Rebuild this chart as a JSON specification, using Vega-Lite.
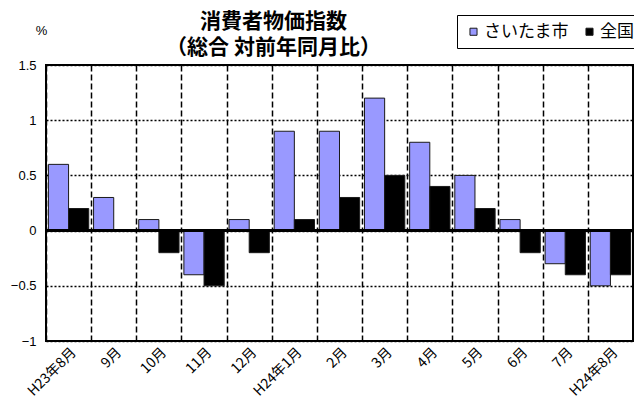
{
  "$schema": "https://vega.github.io/schema/vega-lite/v6.json",
  "width": 587,
  "height": 276,
  "autosize": {"type": "none"},
  "padding": {"left": 46, "top": 65, "right": 1, "bottom": 62},
  "background": "white",
  "title": {
    "text": ["消費者物価指数", "（総合 対前年同月比）"],
    "font": "Noto Sans CJK JP",
    "fontSize": 21,
    "fontWeight": "bold",
    "color": "black",
    "lineHeight": 26,
    "anchor": "middle",
    "dx": -66,
    "offset": -43
  },
  "config": {
    "view": {"stroke": "black", "strokeWidth": 2}
  },
  "data": {
    "values": [
      {"month": "H23年8月", "series": "さいたま市", "value": 0.6},
      {"month": "H23年8月", "series": "全国", "value": 0.2},
      {"month": "9月", "series": "さいたま市", "value": 0.3},
      {"month": "9月", "series": "全国", "value": 0.0},
      {"month": "10月", "series": "さいたま市", "value": 0.1},
      {"month": "10月", "series": "全国", "value": -0.2},
      {"month": "11月", "series": "さいたま市", "value": -0.4},
      {"month": "11月", "series": "全国", "value": -0.5},
      {"month": "12月", "series": "さいたま市", "value": 0.1},
      {"month": "12月", "series": "全国", "value": -0.2},
      {"month": "H24年1月", "series": "さいたま市", "value": 0.9},
      {"month": "H24年1月", "series": "全国", "value": 0.1},
      {"month": "2月", "series": "さいたま市", "value": 0.9},
      {"month": "2月", "series": "全国", "value": 0.3},
      {"month": "3月", "series": "さいたま市", "value": 1.2},
      {"month": "3月", "series": "全国", "value": 0.5},
      {"month": "4月", "series": "さいたま市", "value": 0.8},
      {"month": "4月", "series": "全国", "value": 0.4},
      {"month": "5月", "series": "さいたま市", "value": 0.5},
      {"month": "5月", "series": "全国", "value": 0.2},
      {"month": "6月", "series": "さいたま市", "value": 0.1},
      {"month": "6月", "series": "全国", "value": -0.2},
      {"month": "7月", "series": "さいたま市", "value": -0.3},
      {"month": "7月", "series": "全国", "value": -0.4},
      {"month": "H24年8月", "series": "さいたま市", "value": -0.5},
      {"month": "H24年8月", "series": "全国", "value": -0.4}
    ]
  },
  "layer": [
    {
      "mark": {"type": "bar", "stroke": "#1a1a1a", "strokeWidth": 1},
      "encoding": {
        "x": {
          "field": "month",
          "type": "nominal",
          "sort": null,
          "scale": {"paddingInner": 0, "paddingOuter": 0},
          "axis": {
            "title": null,
            "labelAngle": -45,
            "labelAlign": "right",
            "labelBaseline": "middle",
            "labelFont": "Noto Sans CJK JP",
            "labelFontSize": 14,
            "labelColor": "black",
            "labelOffset": 5,
            "ticks": false,
            "domain": false,
            "tickBand": "extent",
            "grid": true,
            "gridColor": "black",
            "gridDash": [6, 3],
            "gridWidth": 1.5,
            "gridOpacity": 1,
            "labelPadding": 9
          }
        },
        "xOffset": {
          "field": "series",
          "type": "nominal",
          "sort": ["さいたま市", "全国"],
          "scale": {"paddingOuter": 0.12, "paddingInner": 0}
        },
        "y": {
          "field": "value",
          "type": "quantitative",
          "scale": {"domain": [-1, 1.5], "nice": false, "zero": false},
          "axis": {
            "values": [-1, -0.5, 0, 0.5, 1, 1.5],
            "format": "~g",
            "title": "%",
            "titleAngle": 0,
            "titleX": -5,
            "titleY": -35,
            "titleAlign": "center",
            "titleBaseline": "middle",
            "titleFont": "Liberation Sans",
            "titleFontSize": 13,
            "titleFontWeight": "normal",
            "titleColor": "black",
            "labelFont": "Liberation Sans",
            "labelFontSize": 13,
            "labelColor": "black",
            "ticks": false,
            "domain": false,
            "labelPadding": 10,
            "grid": true,
            "gridColor": "black",
            "gridDash": [2, 2],
            "gridWidth": 1.3,
            "gridOpacity": 1
          }
        },
        "color": {
          "field": "series",
          "type": "nominal",
          "scale": {"domain": ["さいたま市", "全国"], "range": ["#9999FF", "#000000"]},
          "legend": {
            "title": null,
            "orient": "none",
            "legendX": 411,
            "legendY": -50,
            "direction": "horizontal",
            "strokeColor": "black",
            "fillColor": "white",
            "padding": 8,
            "symbolType": "square",
            "symbolSize": 50,
            "symbolStrokeWidth": 1,
            "symbolOpacity": 1,
            "labelFont": "Noto Sans CJK JP",
            "labelFontSize": 17,
            "labelColor": "black",
            "labelOffset": 2,
            "columnPadding": 12
          }
        }
      }
    },
    {
      "mark": {"type": "rule", "color": "black", "strokeWidth": 2},
      "encoding": {"y": {"datum": 0}}
    }
  ]
}
